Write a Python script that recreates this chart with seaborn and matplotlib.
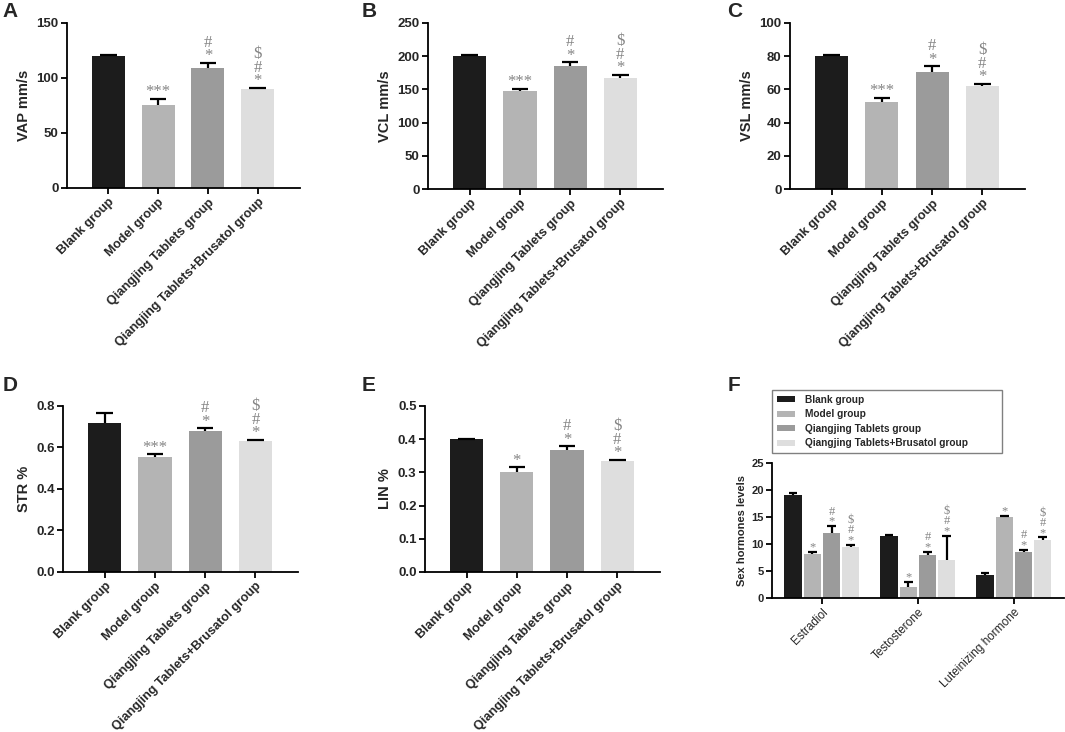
import numpy as np
import pandas as pd
import seaborn as sns
import matplotlib.pyplot as plt

sns.set_style("ticks")
plt.rcParams['font.family'] = ['Liberation Sans', 'DejaVu Sans']

groups = ["Blank group", "Model group", "Qiangjing Tablets group",
          "Qiangjing Tablets+Brusatol group"]
colors = ["#1c1c1c", "#b4b4b4", "#9b9b9b", "#dedede"]

# sperm motility panels
vap = [120.3, 75.5, 108.8, 90.3]
vap_err = [0.8, 5.5, 5.0, 0.8]
vcl = [199.7, 148.0, 185.7, 167.0]
vcl_err = [1.5, 3.0, 5.0, 5.0]
vsl = [80.2, 52.4, 70.5, 61.8]
vsl_err = [0.5, 2.4, 3.4, 1.6]
str_pct = [0.720, 0.556, 0.681, 0.631]
str_err = [0.045, 0.012, 0.012, 0.006]
lin_pct = [0.400, 0.302, 0.367, 0.334]
lin_err = [0.002, 0.013, 0.012, 0.004]

marks_abcd = ["", "***", "#\n*", "$\n#\n*"]
marks_e = ["", "*", "#\n*", "$\n#\n*"]

# sex hormones panel
hormones = ["Estradiol", "Testosterone", "Luteinizing hormone"]
blank_h = [19.0, 11.5, 4.26]
blank_h_err = [0.4, 0.25, 0.35]
model_h = [8.2, 2.0, 15.0]
model_h_err = [0.4, 1.0, 0.25]
qt_h = [12.0, 8.0, 8.6]
qt_h_err = [1.3, 0.6, 0.35]
qtb_h = [9.4, 7.1, 10.7]
qtb_h_err = [0.45, 4.4, 0.5]
marks_f = [["", "", ""], ["*", "*", "*"], ["#\n*", "#\n*", "#\n*"],
           ["$\n#\n*", "$\n#\n*", "$\n#\n*"]]

MARK_COLOR = "#858585"


def style_axes(ax, yticks, fmt, tick_size):
    for s in ["top", "right"]:
        ax.spines[s].set_visible(False)
    for s in ["left", "bottom"]:
        ax.spines[s].set_linewidth(1.3)
        ax.spines[s].set_color("black")
    ax.tick_params(width=1.3, length=4, color="black", pad=2)
    ax.set_yticks(yticks)
    ax.set_yticklabels([fmt.format(t) for t in yticks], fontweight="bold",
                       fontsize=tick_size)
    ax.set_ylim(yticks[0], yticks[-1])


def add_err(ax, patch, val, err, mark, fsize):
    cx = patch.get_x() + patch.get_width() / 2
    w = patch.get_width()
    top = val + err
    ax.vlines(cx, val, top, color="black", lw=1.6)
    ax.hlines(top, cx - w / 4, cx + w / 4, color="black", lw=1.6)
    if mark:
        ax.annotate(mark, (cx, top), xytext=(0, -1), textcoords="offset points",
                    ha="center", va="bottom", color=MARK_COLOR,
                    family=["Liberation Serif", "DejaVu Serif"],
                    fontsize=fsize, linespacing=0.78)


def motility_panel(ax, values, errs, marks, ylabel, yticks, fmt):
    df = pd.DataFrame({"group": groups, "value": values})
    sns.barplot(data=df, x="group", y="value", hue="group", order=groups,
                hue_order=groups, palette=colors, width=0.66, saturation=1,
                errorbar=None, legend=False, linewidth=0, ax=ax)
    for patch, v, e, m in zip(ax.patches, values, errs, marks):
        add_err(ax, patch, v, e, m, 12)
    style_axes(ax, yticks, fmt, 9.5)
    ax.set_xlim(-0.83, 3.85)
    ax.set_xticks(range(len(groups)))
    ax.set_xticklabels(groups, rotation=45, ha="right", rotation_mode="anchor",
                       fontweight="bold", fontsize=9.2)
    ax.set_xlabel("")
    ax.set_ylabel(ylabel, fontweight="bold", fontsize=10.5, labelpad=4)


fig = plt.figure(figsize=(10.65, 7.32), dpi=100)

axA = fig.add_axes([0.0629, 0.7432, 0.2188, 0.2254])
axB = fig.add_axes([0.4019, 0.7418, 0.2207, 0.2268])
axC = fig.add_axes([0.7418, 0.7418, 0.2207, 0.2268])
axD = fig.add_axes([0.0592, 0.2186, 0.2207, 0.2268])
axE = fig.add_axes([0.3990, 0.2186, 0.2207, 0.2268])
axF = fig.add_axes([0.7249, 0.1831, 0.2740, 0.1844])

motility_panel(axA, vap, vap_err, marks_abcd, "VAP mm/s", [0, 50, 100, 150], "{:.0f}")
motility_panel(axB, vcl, vcl_err, marks_abcd, "VCL mm/s",
               [0, 50, 100, 150, 200, 250], "{:.0f}")
motility_panel(axC, vsl, vsl_err, marks_abcd, "VSL mm/s",
               [0, 20, 40, 60, 80, 100], "{:.0f}")
motility_panel(axD, str_pct, str_err, marks_abcd, "STR %",
               [0.0, 0.2, 0.4, 0.6, 0.8], "{:.1f}")
motility_panel(axE, lin_pct, lin_err, marks_e, "LIN %",
               [0.0, 0.1, 0.2, 0.3, 0.4, 0.5], "{:.1f}")

# panel F: grouped bars
hvals = [blank_h, model_h, qt_h, qtb_h]
herrs = [blank_h_err, model_h_err, qt_h_err, qtb_h_err]
df_h = pd.DataFrame({
    "hormone": hormones * len(groups),
    "group": np.repeat(groups, len(hormones)),
    "value": np.concatenate(hvals),
})
sns.barplot(data=df_h, x="hormone", y="value", hue="group", order=hormones,
            hue_order=groups, palette=colors, width=0.8, gap=0.1, saturation=1,
            errorbar=None, linewidth=0, ax=axF)
for cont, vals, errs, marks in zip(axF.containers, hvals, herrs, marks_f):
    for patch, v, e, m in zip(cont.patches, vals, errs, marks):
        add_err(axF, patch, v, e, m, 9)
style_axes(axF, [0, 5, 10, 15, 20, 25], "{:.0f}", 8)
axF.set_xlim(-0.52, 2.52)
axF.set_xticks(range(len(hormones)))
axF.set_xticklabels(hormones, rotation=45, ha="right", rotation_mode="anchor",
                    fontsize=8.5)
axF.set_xlabel("")
axF.set_ylabel("Sex hormones levels", fontweight="bold", fontsize=8, labelpad=3)
handles, labels = axF.get_legend_handles_labels()
axF.legend(handles, labels, loc="lower left",
           bbox_to_anchor=(0.0, 1.074, 0.788, 0.474), mode="expand",
           frameon=True, fancybox=False, edgecolor="#808080", framealpha=1,
           prop={"weight": "bold", "size": 7.3}, handlelength=1.8,
           handleheight=0.55, handletextpad=1.0, labelspacing=0.45,
           borderpad=0.45, borderaxespad=0)
axF.get_legend().get_frame().set_linewidth(1.0)

for letter, x, y in [("A", 0.002, 0.997), ("B", 0.340, 0.997), ("C", 0.683, 0.997),
                     ("D", 0.002, 0.487), ("E", 0.340, 0.487), ("F", 0.683, 0.487)]:
    fig.text(x, y, letter, fontsize=15, fontweight="bold", va="top", ha="left")

fig.savefig("out.png", dpi=100)
